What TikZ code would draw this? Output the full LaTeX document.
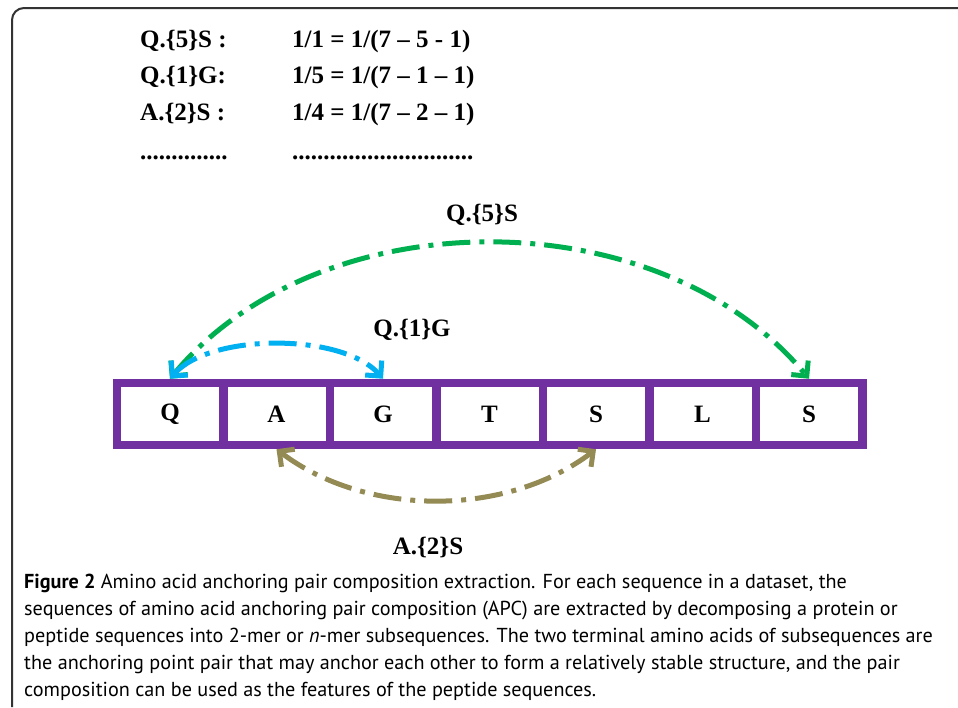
\documentclass[tikz,border=0pt]{standalone}
\usepackage{fontspec}
\setmainfont{Liberation Serif}
\newfontfamily\capfont{PT Sans}
\usetikzlibrary{arrows.meta}
\definecolor{apcpurple}{RGB}{112,48,160}
\definecolor{apcgreen}{RGB}{0,176,80}
\definecolor{apcblue}{RGB}{0,176,240}
\definecolor{apcolive}{RGB}{148,138,84}
\begin{document}
\begin{tikzpicture}[x=1pt,y=-1pt]
  \tikzstyle{every node}=[inner sep=0pt,font=\fontsize{25}{30}\selectfont\bfseries]
  \tikzstyle{cell}=[draw=apcpurple,line width=8.5pt,fill=white,minimum width=106.5pt,minimum height=62pt]
  \tikzstyle{pair}=[line width=5pt,dash pattern=on 28pt off 9pt on 5pt off 9pt,
    {Straight Barb[length=11pt,width=22pt]}-{Straight Barb[length=11pt,width=22pt]}]
  \useasboundingbox (0,0) rectangle (958,707);
  \draw[line width=2pt,black!80,rounded corners=12pt] (12,707) -- (12,8) -- (958,8);
  % score list
  \node[anchor=base west] (p1) at (140,47) {Q.\{5\}S :};
  \node[anchor=base west] (p2) at (140,83) {Q.\{1\}G:};
  \node[anchor=base west] (p3) at (140,120) {A.\{2\}S :};
  \node[anchor=base west] (p4) at (140,159) {..............};
  \node[anchor=base west] (w1) at (292,47) {1/1 = 1/(7 – 5 - 1)};
  \node[anchor=base west] (w2) at (292,83) {1/5 = 1/(7 – 1 – 1)};
  \node[anchor=base west] (w3) at (292,120) {1/4 = 1/(7 – 2 – 1)};
  \node[anchor=base west] (w4) at (292,159) {.............................};
  % peptide
  \foreach \name/\res [count=\i from 0] in {q/Q,a/A,g/G,t/T,s1/S,l/L,s2/S}
    \node[cell] (\name) at (170+106.5*\i,414) {\res};
  % anchoring pairs
  \draw[pair,apcgreen] (q.north) .. controls +(150,-181) and +(-150,-181) .. (s2.north);
  \draw[pair,apcblue] (q.north) .. controls +(40,-46) and +(-40,-46) .. (g.north);
  \draw[pair,apcolive] (a.south) .. controls +(90,68) and +(-90,68) .. (s1.south);
  \node (l5) at (482,215) {Q.\{5\}S};
  \node (l1) at (412,330) {Q.\{1\}G};
  \node (l2) at (428,547) {A.\{2\}S};
  % caption
  \node[anchor=base west,align=left,font=\capfont\fontsize{20.2}{27}\selectfont] (cap) at (24,696)
    {\textbf{Figure 2} Amino acid anchoring pair composition extraction. For each sequence in a dataset, the\\
     sequences of amino acid anchoring pair composition (APC) are extracted by decomposing a protein or\\
     peptide sequences into 2-mer or \textit{n}-mer subsequences. The two terminal amino acids of subsequences are\\
     the anchoring point pair that may anchor each other to form a relatively stable structure, and the pair\\
     composition can be used as the features of the peptide sequences.};
\end{tikzpicture}
\end{document}
